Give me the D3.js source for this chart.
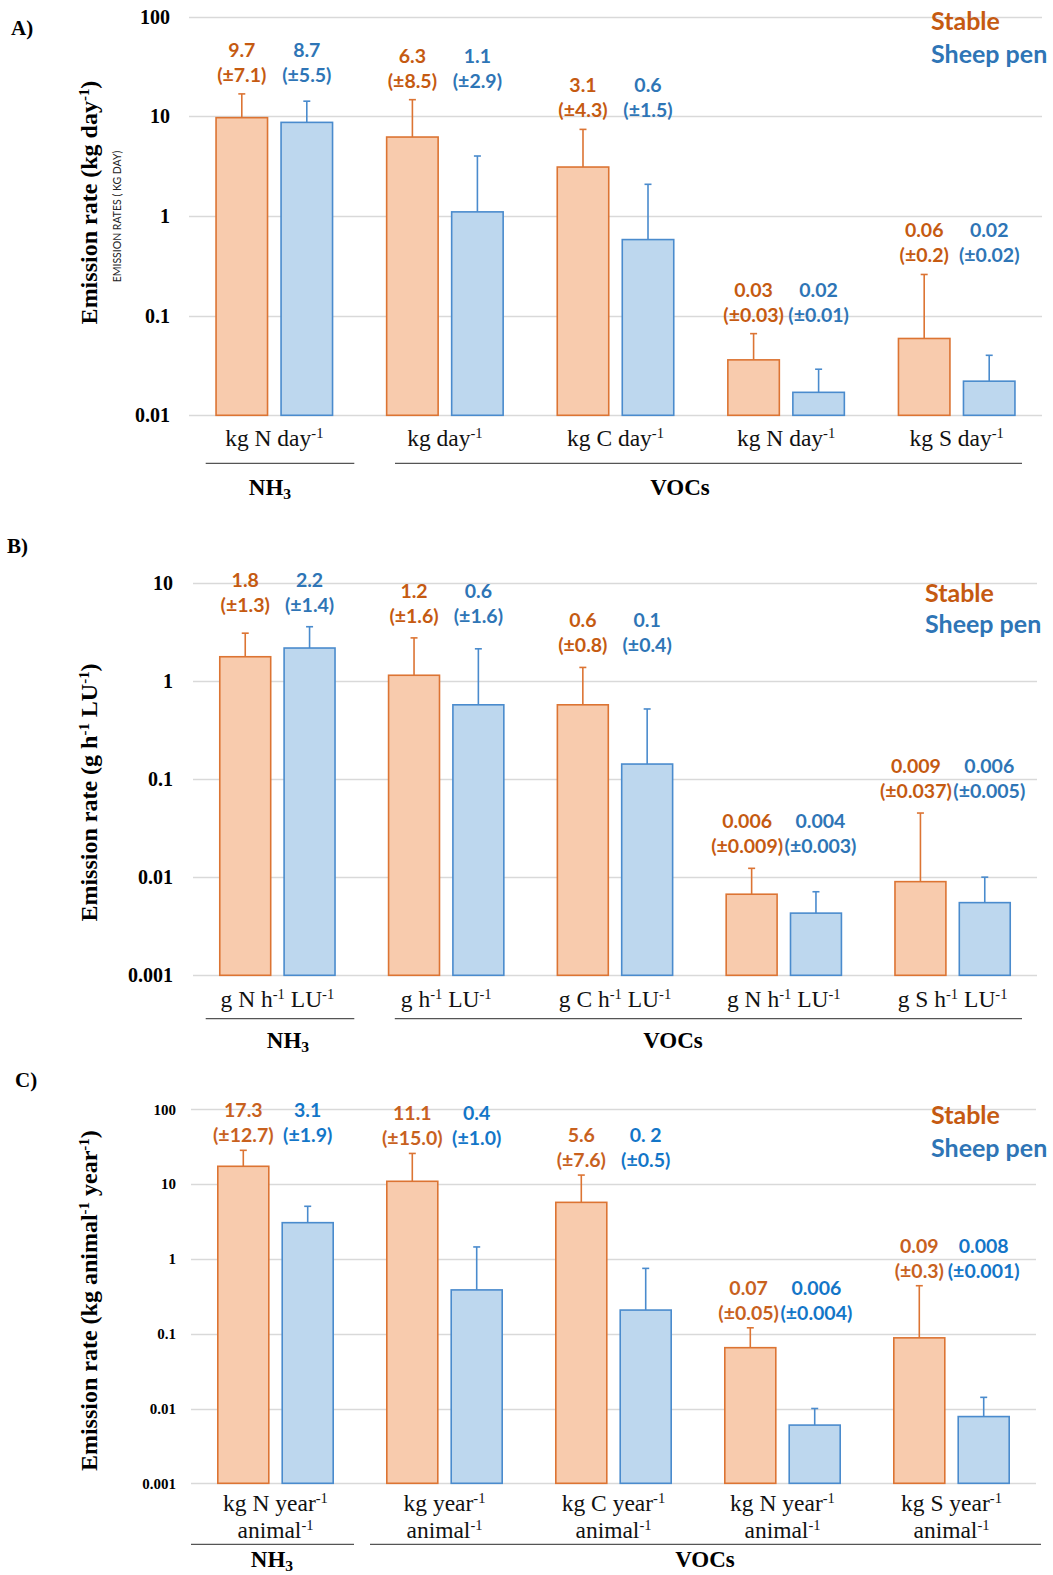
<!DOCTYPE html>
<html><head><meta charset="utf-8">
<script src="https://cdn.jsdelivr.net/npm/d3@7"></script>
<style>body{margin:0;background:#fff}svg{display:block}</style>
</head><body>
<svg id="chart" width="1053" height="1575"></svg>
<script>
// ---------------- DATA ----------------
const seriesNames = ["Stable", "Sheep pen"];
const groupNames = ["NH_{3}", "VOCs"];

// Panel A (kg day-1)
const catA = ["kg N day^{-1}", "kg day^{-1}", "kg C day^{-1}", "kg N day^{-1}", "kg S day^{-1}"];
const stableA = [9.7, 6.2, 3.1, 0.036, 0.059];
const stableErrA = [7.1, 8.5, 4.3, 0.03, 0.2];
const sheepA = [8.7, 1.1, 0.58, 0.017, 0.022];
const sheepErrA = [5.5, 2.9, 1.5, 0.012, 0.018];
const stableLabA = ["9.7", "6.3", "3.1", "0.03", "0.06"];
const stableLabErrA = ["(±7.1)", "(±8.5)", "(±4.3)", "(±0.03)", "(±0.2)"];
const sheepLabA = ["8.7", "1.1", "0.6", "0.02", "0.02"];
const sheepLabErrA = ["(±5.5)", "(±2.9)", "(±1.5)", "(±0.01)", "(±0.02)"];
const ticksA = [0.01, 0.1, 1, 10, 100];
const tickLabelsA = ["0.01", "0.1", "1", "10", "100"];

// Panel B (g h-1 LU-1)
const catB = ["g N h^{-1} LU^{-1}", "g h^{-1} LU^{-1}", "g C h^{-1} LU^{-1}", "g N h^{-1} LU^{-1}", "g S h^{-1} LU^{-1}"];
const stableB = [1.76, 1.14, 0.57, 0.0067, 0.009];
const stableErrB = [1.3, 1.6, 0.8, 0.0056, 0.036];
const sheepB = [2.16, 0.57, 0.142, 0.0043, 0.0055];
const sheepErrB = [1.4, 1.55, 0.375, 0.0028, 0.0045];
const stableLabB = ["1.8", "1.2", "0.6", "0.006", "0.009"];
const stableLabErrB = ["(±1.3)", "(±1.6)", "(±0.8)", "(±0.009)", "(±0.037)"];
const sheepLabB = ["2.2", "0.6", "0.1", "0.004", "0.006"];
const sheepLabErrB = ["(±1.4)", "(±1.6)", "(±0.4)", "(±0.003)", "(±0.005)"];
const ticksB = [0.001, 0.01, 0.1, 1, 10];
const tickLabelsB = ["0.001", "0.01", "0.1", "1", "10"];

// Panel C (kg animal-1 year-1)
const catC = ["kg N year^{-1}|animal^{-1}", "kg year^{-1}|animal^{-1}", "kg C year^{-1}|animal^{-1}", "kg N year^{-1}|animal^{-1}", "kg S year^{-1}|animal^{-1}"];
const stableC = [17.3, 10.9, 5.7, 0.065, 0.088];
const stableErrC = [11.0, 14.8, 7.5, 0.055, 0.35];
const sheepC = [3.05, 0.385, 0.207, 0.006, 0.0078];
const sheepErrC = [2.0, 1.06, 0.54, 0.004, 0.0063];
const stableLabC = ["17.3", "11.1", "5.6", "0.07", "0.09"];
const stableLabErrC = ["(±12.7)", "(±15.0)", "(±7.6)", "(±0.05)", "(±0.3)"];
const sheepLabC = ["3.1", "0.4", "0. 2", "0.006", "0.008"];
const sheepLabErrC = ["(±1.9)", "(±1.0)", "(±0.5)", "(±0.004)", "(±0.001)"];
const ticksC = [0.001, 0.01, 0.1, 1, 10, 100];
const tickLabelsC = ["0.001", "0.01", "0.1", "1", "10", "100"];

// ---------------- STYLE / LAYOUT ----------------
const SERIF = "'Liberation Serif','Times New Roman',serif";
const SANS = "Lato,'Open Sans',sans-serif";
const fillC = ["#F8CBAD", "#BDD7EE"];
const strokeC = ["#DC7433", "#4A8BCD"];

const panels = [
  { id: "A)", letterX: 11, letterY: 35,
    cats: catA, vals: [stableA, sheepA], errs: [stableErrA, sheepErrA],
    labs: [stableLabA, sheepLabA], labErrs: [stableLabErrA, sheepLabErrA],
    ticks: ticksA, tickLabels: tickLabelsA, tickFont: 20, tickRight: 170,
    x0: 189, x1: 1042, yTop: 16.7, yBot: 415.3,
    labOff: 12, textCol: ["#C55A11", "#2E75B6"],
    catY: 446, catLineH: 0, brkY: 463.3, brk: [16.7, 5.3, 35.4, 20],
    grpY: 495, grpX: [270, 680],
    title: "Emission rate (kg day^{-1})", titleCY: 202.5,
    legX: 931, legY: [30, 63], legCol: ["#C55A11", "#2E75B6"], sub: true },
  { id: "B)", letterX: 7, letterY: 553,
    cats: catB, vals: [stableB, sheepB], errs: [stableErrB, sheepErrB],
    labs: [stableLabB, sheepLabB], labErrs: [stableLabErrB, sheepLabErrB],
    ticks: ticksB, tickLabels: tickLabelsB, tickFont: 20, tickRight: 173,
    x0: 193, x1: 1037, yTop: 582.7, yBot: 975.3,
    labOff: 15, textCol: ["#C55A11", "#2E75B6"],
    catY: 1007, catLineH: 0, brkY: 1018.7, brk: [12.7, 7.5, 33, 15],
    grpY: 1048, grpX: [288, 673],
    title: "Emission rate (g h^{-1} LU^{-1})", titleCY: 792.5,
    legX: 925, legY: [601.7, 633], legCol: ["#C55A11", "#2E75B6"] },
  { id: "C)", letterX: 15, letterY: 1087,
    cats: catC, vals: [stableC, sheepC], errs: [stableErrC, sheepErrC],
    labs: [stableLabC, sheepLabC], labErrs: [stableLabErrC, sheepLabErrC],
    ticks: ticksC, tickLabels: tickLabelsC, tickFont: 15, tickRight: 176,
    x0: 191, x1: 1036, yTop: 1109.3, yBot: 1483.3,
    labOff: 8, textCol: ["#C8611E", "#1376C8"],
    catY: 1510.5, catLineH: 27.5, brkY: 1544.3, brk: [0, 6, 10, -5],
    grpY: 1567, grpX: [272, 705],
    title: "Emission rate (kg animal^{-1} year^{-1})", titleCY: 1300.7,
    legX: 931, legY: [1124, 1156.7], legCol: ["#C55A11", "#2E75B6"] }
];

const svg = d3.select("#chart");

function rich(sel, str, size) {
  const parts = str.split(/(\^\{[^}]*\}|_\{[^}]*\})/).filter(s => s.length);
  parts.forEach(pt => {
    if (pt.startsWith("^{")) {
      sel.append("tspan").attr("font-size", size * 0.62).attr("baseline-shift", "super").text(pt.slice(2, -1));
    } else if (pt.startsWith("_{")) {
      sel.append("tspan").attr("font-size", size * 0.68).attr("dy", size * 0.18).text(pt.slice(2, -1));
    } else {
      sel.append("tspan").text(pt);
    }
  });
}

function drawPanel(p) {
  const g = svg.append("g");
  const x = d3.scaleBand().domain(d3.range(p.cats.length)).range([p.x0, p.x1]);
  const bw = x.bandwidth();
  const inner = bw * 118 / 170.6;
  const xs = d3.scaleBand().domain([0, 1]).range([(bw - inner) / 2, (bw + inner) / 2]).paddingInner(0.185);
  const y = d3.scaleLog().domain([p.ticks[0], p.ticks[p.ticks.length - 1]]).range([p.yBot, p.yTop]);

  // gridlines
  g.append("g").selectAll("line").data(p.ticks).join("line")
    .attr("x1", p.x0).attr("x2", p.x1)
    .attr("y1", d => Math.round(y(d)) + 0.5).attr("y2", d => Math.round(y(d)) + 0.5)
    .attr("stroke", "#D9D9D9").attr("stroke-width", 1.3);

  // y axis labels
  const ax = g.append("g").attr("transform", `translate(${p.tickRight},0)`)
    .call(d3.axisLeft(y).tickValues(p.ticks).tickFormat((d, i) => p.tickLabels[i]).tickSize(0).tickPadding(0));
  ax.select(".domain").remove();
  ax.selectAll("text").attr("font-family", SERIF).attr("font-weight", "bold")
    .attr("font-size", p.tickFont).attr("fill", "#000");

  // bars + error bars
  const base = p.ticks[0];
  for (let s = 0; s < 2; s++) {
    const data = p.vals[s].map((v, i) => ({ i, v, e: p.errs[s][i] }));
    const gs = g.append("g");
    gs.selectAll("line.err").data(data).join("line")
      .attr("x1", d => x(d.i) + xs(s) + xs.bandwidth() / 2)
      .attr("x2", d => x(d.i) + xs(s) + xs.bandwidth() / 2)
      .attr("y1", d => y(d.v)).attr("y2", d => y(d.v + d.e))
      .attr("stroke", strokeC[s]).attr("stroke-width", 1.6);
    gs.selectAll("line.cap").data(data).join("line")
      .attr("x1", d => x(d.i) + xs(s) + xs.bandwidth() / 2 - 3.5)
      .attr("x2", d => x(d.i) + xs(s) + xs.bandwidth() / 2 + 3.5)
      .attr("y1", d => y(d.v + d.e)).attr("y2", d => y(d.v + d.e))
      .attr("stroke", strokeC[s]).attr("stroke-width", 1.6);
    gs.selectAll("rect").data(data).join("rect")
      .attr("x", d => x(d.i) + xs(s) + 0.75)
      .attr("width", xs.bandwidth() - 1.5)
      .attr("y", d => y(d.v))
      .attr("height", d => y(base) - y(d.v))
      .attr("fill", fillC[s]).attr("stroke", strokeC[s]).attr("stroke-width", 1.6);
  }

  // value labels (pairs pushed apart when they would touch)
  p.cats.forEach((c, i) => {
    const top = Math.min(y(p.vals[0][i] + p.errs[0][i]), y(p.vals[1][i] + p.errs[1][i]));
    const y2 = top - p.labOff, y1 = y2 - 25;
    const cxs = [0, 1].map(s => x(i) + xs(s) + xs.bandwidth() / 2);
    const nodes = [[], []];
    for (let s = 0; s < 2; s++) {
      [[y1, p.labs[s][i]], [y2, p.labErrs[s][i]]].forEach(([yy, txt]) => {
        const t = g.append("text").attr("x", cxs[s]).attr("y", yy).attr("text-anchor", "middle")
          .attr("font-family", SANS).attr("font-weight", "bold").attr("font-size", 19.5)
          .attr("fill", p.textCol[s]).text(txt);
        nodes[s].push(t);
      });
    }
    let shift = 0;
    for (let k = 0; k < 2; k++) {
      const w0 = nodes[0][k].node().getComputedTextLength();
      const w1 = nodes[1][k].node().getComputedTextLength();
      const gap = (cxs[1] - w1 / 2) - (cxs[0] + w0 / 2);
      if (gap < 1.5) shift = Math.max(shift, (1.5 - gap) / 2);
    }
    if (shift > 0) {
      nodes[0].forEach(t => t.attr("x", cxs[0] - shift));
      nodes[1].forEach(t => t.attr("x", cxs[1] + shift));
    }
  });

  // category labels
  p.cats.forEach((c, i) => {
    const lines = c.split("|");
    lines.forEach((ln, k) => {
      const t = g.append("text").attr("x", x(i) + bw / 2).attr("y", p.catY + k * p.catLineH)
        .attr("text-anchor", "middle").attr("font-family", SERIF).attr("font-size", 23.5).attr("fill", "#111");
      rich(t, ln, 23.5);
    });
  });

  // bracket lines
  const brks = [[x(0) + p.brk[0], x(0) + bw - p.brk[1]], [x(1) + p.brk[2], x(p.cats.length - 1) + bw - p.brk[3]]];
  g.append("g").selectAll("line").data(brks).join("line")
    .attr("x1", d => d[0]).attr("x2", d => d[1]).attr("y1", p.brkY).attr("y2", p.brkY)
    .attr("stroke", "#555").attr("stroke-width", 1.3);

  // group titles
  groupNames.forEach((t, k) => {
    const tx = g.append("text").attr("x", p.grpX[k]).attr("y", p.grpY).attr("text-anchor", "middle")
      .attr("font-family", SERIF).attr("font-weight", "bold").attr("font-size", 23).attr("fill", "#000");
    rich(tx, t, 23);
  });

  // y title
  const tt = g.append("text").attr("transform", `translate(97,${p.titleCY}) rotate(-90)`)
    .attr("text-anchor", "middle").attr("font-family", SERIF).attr("font-weight", "bold")
    .attr("font-size", 24).attr("fill", "#000");
  rich(tt, p.title, 24);

  if (p.sub) {
    g.append("text").attr("transform", `translate(121,${216.5}) rotate(-90)`)
      .attr("text-anchor", "middle").attr("font-family", SANS).attr("font-size", 10.5)
      .attr("fill", "#222").text("EMISSION RATES ( KG DAY)");
  }

  // panel letter
  g.append("text").attr("x", p.letterX).attr("y", p.letterY)
    .attr("font-family", SERIF).attr("font-weight", "bold").attr("font-size", 21).attr("fill", "#000").text(p.id);

  // legend
  seriesNames.forEach((n, s) => {
    g.append("text").attr("x", p.legX).attr("y", p.legY[s]).attr("font-family", SANS)
      .attr("font-weight", "bold").attr("font-size", 25).attr("fill", p.legCol[s]).text(n);
  });
}

panels.forEach(drawPanel);
</script>
</body></html>
